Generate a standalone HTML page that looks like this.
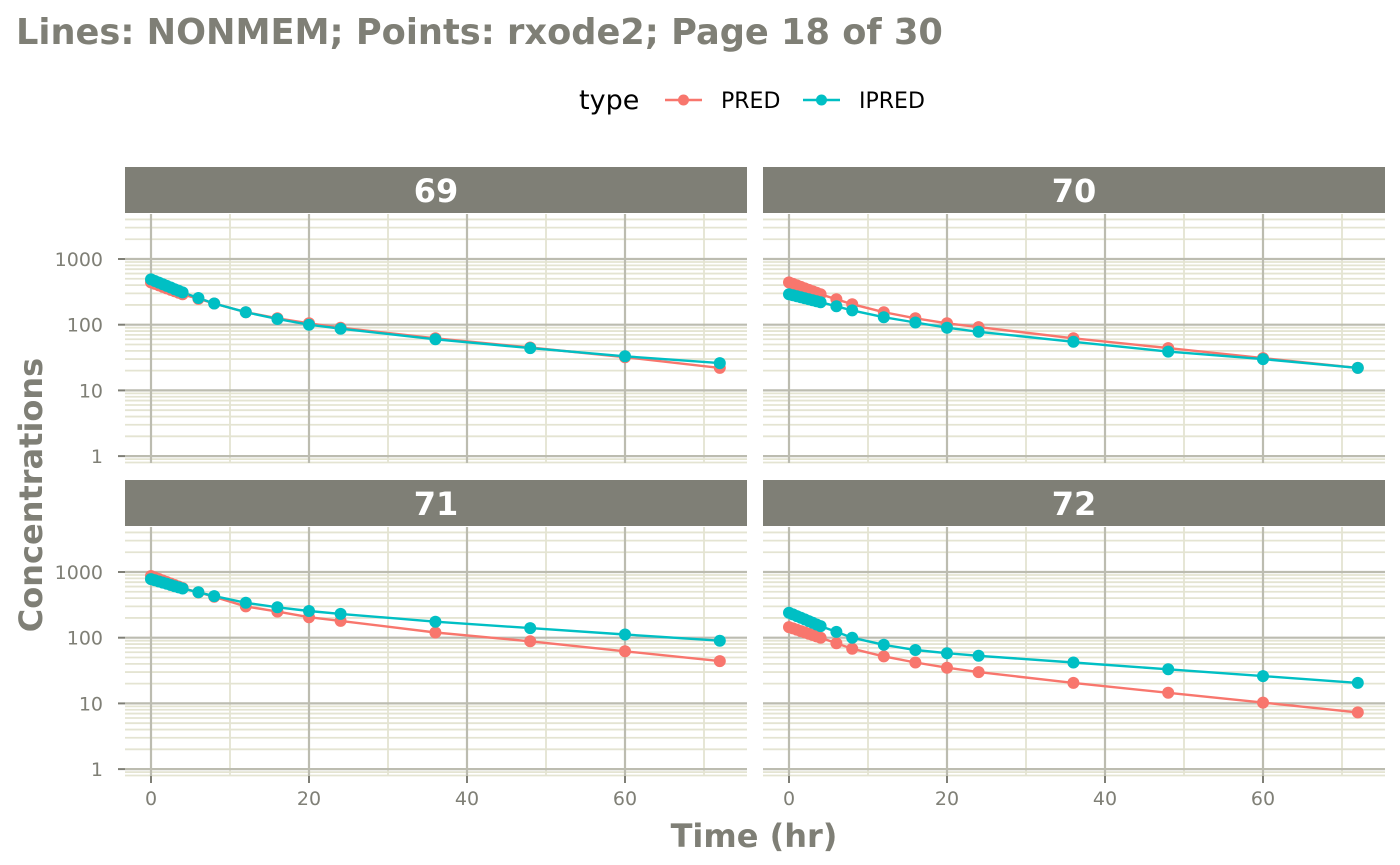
<!DOCTYPE html>
<html><head><meta charset="utf-8"><style>
html,body{margin:0;padding:0;background:#fff;}
svg{display:block;font-family:"DejaVu Sans","Liberation Sans",sans-serif;}
</style></head><body>
<svg id="s" width="1400" height="865" xmlns="http://www.w3.org/2000/svg">
<text x="16" y="44" font-size="35.2" font-weight="bold" fill="#7f7f76">Lines: NONMEM; Points: rxode2; Page 18 of 30</text>
<text x="579" y="109" font-size="27" fill="#000">type</text>
<line x1="665" y1="100" x2="702" y2="100" stroke="#F8766D" stroke-width="2.5"/><circle cx="683.5" cy="100" r="5.5" fill="#F8766D"/>
<text x="721" y="108" font-size="22" fill="#000">PRED</text>
<line x1="803" y1="100" x2="840" y2="100" stroke="#00BFC4" stroke-width="2.5"/><circle cx="821.5" cy="100" r="5.5" fill="#00BFC4"/>
<text x="859" y="108" font-size="22" fill="#000">IPRED</text>
<text x="0" y="0" font-size="32" font-weight="bold" fill="#7f7f76" text-anchor="middle" transform="translate(42,495) rotate(-90)">Concentrations</text>
<text x="754" y="847" font-size="32" font-weight="bold" fill="#7f7f76" text-anchor="middle">Time (hr)</text>
<g id="g"></g>
</svg>
<script>
var g=document.getElementById('g'),h='';
var T=[0,0.5,1,1.5,2,2.5,3,3.5,4,6,8,12,16,20,24,36,48,60,72];
var D={
69:[[[0,440],[4,290],[8,210],[12,155],[16,125],[20,105],[24,90],[36,62],[48,45],[60,32],[72,22]],
    [[0,490],[4,310],[8,210],[12,155],[16,122],[20,100],[24,87],[36,60],[48,44],[60,33],[72,26]]],
70:[[[0,440],[4,290],[8,205],[12,155],[16,125],[20,105],[24,92],[36,62],[48,44],[60,31],[72,22]],
    [[0,290],[4,220],[8,165],[12,130],[16,108],[20,90],[24,78],[36,55],[48,39],[60,30],[72,22]]],
71:[[[0,870],[4,570],[8,420],[12,300],[16,250],[20,205],[24,180],[36,120],[48,88],[60,62],[72,44]],
    [[0,780],[4,560],[8,430],[12,340],[16,290],[20,255],[24,230],[36,175],[48,140],[60,112],[72,90]]],
72:[[[0,145],[4,100],[8,68],[12,52],[16,42],[20,35],[24,30],[36,20.5],[48,14.5],[60,10.3],[72,7.3]],
    [[0,240],[4,150],[8,100],[12,78],[16,65],[20,58],[24,53],[36,42],[48,33],[60,26],[72,20.5]]]};
function iv(k,t){for(var i=0;i<k.length-1;i++){if(t<=k[i+1][0]){var f=(t-k[i][0])/(k[i+1][0]-k[i][0]);return Math.exp(Math.log(k[i][1])*(1-f)+Math.log(k[i+1][1])*f);}}return k[k.length-1][1];}
var P=[[69,125,214,151],[70,763,214,789],[71,125,527,151],[72,763,527,789]];
var dec=65.7;
P.forEach(function(p){
 var id=p[0],x0=p[1],y0=p[2],zx=p[3],W=622,H=249;
 var y1000=y0+45;
 function Y(v){return y1000-(Math.log10(v)-3)*dec;}
 function X(t){return zx+t*7.9;}
 for(var e=-1;e<=3;e++)for(var m=1;m<=9;m++){var v=m*Math.pow(10,e);var y=Y(v);if(y<y0||y>y0+H)continue;
   if(m==1)continue;h+='<line x1="'+x0+'" x2="'+(x0+W)+'" y1="'+y+'" y2="'+y+'" stroke="#e4e4d2" stroke-width="1.8"/>';}
 [10,30,50,70].forEach(function(t){h+='<line x1="'+X(t)+'" x2="'+X(t)+'" y1="'+y0+'" y2="'+(y0+H)+'" stroke="#e4e4d2" stroke-width="1.8"/>';});
 [1,10,100,1000].forEach(function(v){var y=Y(v);h+='<line x1="'+x0+'" x2="'+(x0+W)+'" y1="'+y+'" y2="'+y+'" stroke="#bcbcb0" stroke-width="2.2"/>';
   if(x0<200){h+='<line x1="'+(x0-7)+'" x2="'+x0+'" y1="'+y+'" y2="'+y+'" stroke="#7f7f76" stroke-width="2"/><text x="'+(x0-22)+'" y="'+(y+7)+'" font-size="19" fill="#7f7f76" text-anchor="end">'+v+'</text>';}});
 [0,20,40,60].forEach(function(t){h+='<line x1="'+X(t)+'" x2="'+X(t)+'" y1="'+y0+'" y2="'+(y0+H)+'" stroke="#bcbcb0" stroke-width="2.2"/>';
   if(y0>400){h+='<line x1="'+X(t)+'" x2="'+X(t)+'" y1="'+(y0+H)+'" y2="'+(y0+H+7)+'" stroke="#7f7f76" stroke-width="2"/><text x="'+X(t)+'" y="'+(y0+H+29)+'" font-size="19" fill="#7f7f76" text-anchor="middle">'+t+'</text>';}});
 h+='<rect x="'+x0+'" y="'+(y0-47)+'" width="'+W+'" height="46" fill="#7f7f76"/><text x="'+(x0+W/2)+'" y="'+(y0-12)+'" font-size="32" font-weight="bold" fill="#fff" text-anchor="middle">'+id+'</text>';
 var cols=['#F8766D','#00BFC4'];
 for(var s=0;s<2;s++){var pts=T.map(function(t){return X(t).toFixed(1)+','+Y(iv(D[id][s],t)).toFixed(1);}).join(' ');
   h+='<polyline points="'+pts+'" fill="none" stroke="'+cols[s]+'" stroke-width="2.4"/>';}
 for(var s=0;s<2;s++){T.forEach(function(t){h+='<circle cx="'+X(t).toFixed(1)+'" cy="'+Y(iv(D[id][s],t)).toFixed(1)+'" r="6" fill="'+cols[s]+'"/>';});}
});
g.innerHTML=h;
</script>
</body></html>
